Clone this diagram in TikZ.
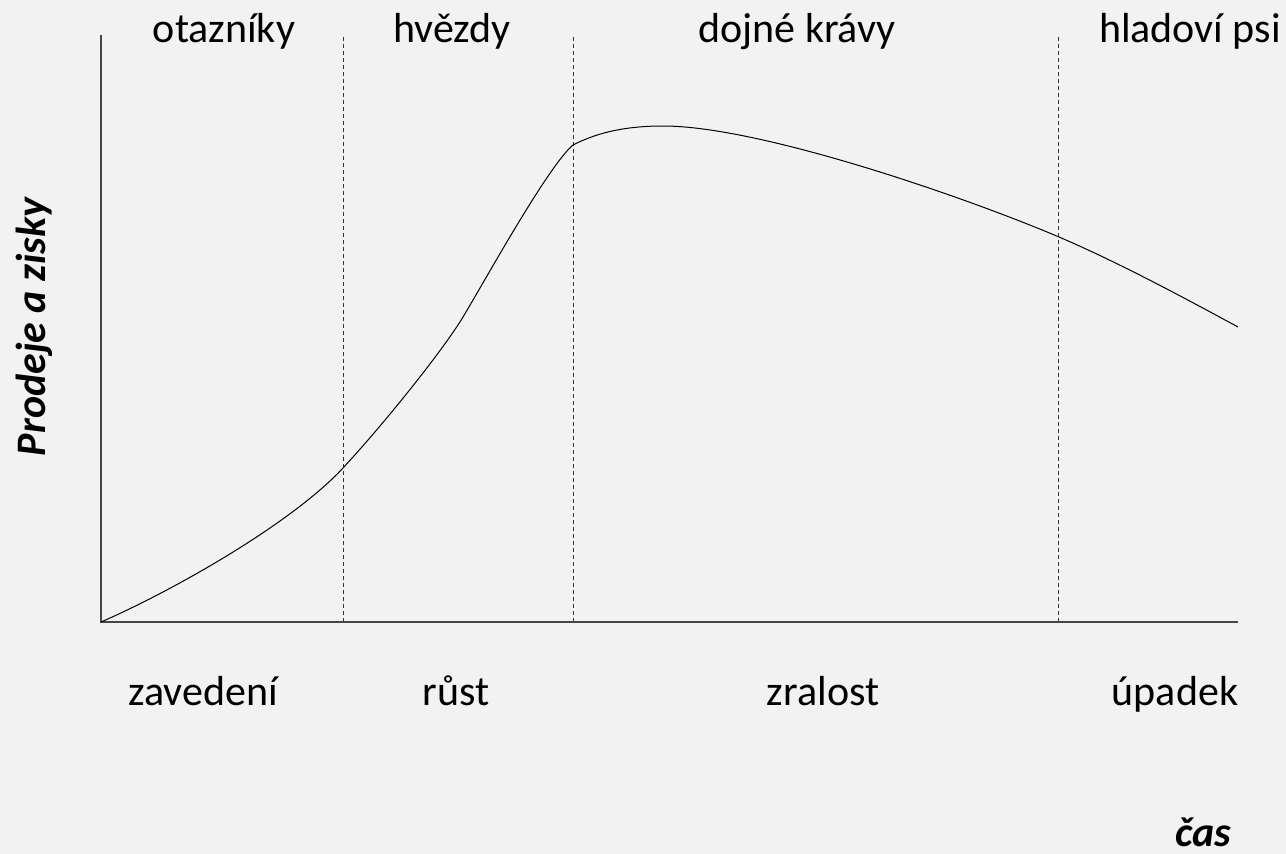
\documentclass[tikz,border=0pt]{standalone}
\usepackage{fontspec}
\setmainfont{Carlito}
\definecolor{bggray}{RGB}{242,242,242}
\definecolor{axisgray}{RGB}{70,70,70}
\begin{document}
\begin{tikzpicture}[x=1pt, y=-1pt, font=\fontsize{42}{50}\selectfont,
    axis/.style={draw=axisgray, line width=1.3pt},
    divider/.style={draw=black!80, line width=0.9pt, dash pattern=on 4pt off 3pt},
    phase/.style={anchor=base, inner sep=0pt},
    axislabel/.style={font=\fontsize{42}{50}\selectfont\bfseries\itshape, inner sep=0pt}]
    \fill[bggray] (0,0) rectangle (1286,854);
    \useasboundingbox (0,0) rectangle (1286,854);

    \coordinate (O)  at (101,622);
    \coordinate (Yt) at (101,35);
    \coordinate (Xe) at (1238,622);
    \coordinate (d1t) at (343,37);  \coordinate (d1b) at (343,622);
    \coordinate (d2t) at (573,37);  \coordinate (d2b) at (573,622);
    \coordinate (d3t) at (1058,37); \coordinate (d3b) at (1058,622);

    \draw[divider] (d1t) -- (d1b);
    \draw[divider] (d2t) -- (d2b);
    \draw[divider] (d3t) -- (d3b);

    \draw[axis] (Yt) -- (O) -- (Xe);

    % krivka zivotniho cyklu
    \draw[line width=1pt] (O)
        .. controls (170,592) and (290,525) .. (343,468)
        .. controls (390,417) and (445,347) .. (463,317)
        .. controls (483,284) and (548,166) .. (573,145)
        .. controls (600,131) and (630,126) .. (663,126)
        .. controls (760,126) and (965,197) .. (1059,237)
        .. controls (1120,263) and (1190,301) .. (1238,327);

    \node[phase] (q)  at (224,42) {otazníky};
    \node[phase] (st) at (452,42) {hvězdy};
    \node[phase] (cw) at (797,42) {dojné krávy};
    \node[phase] (dg) at (1190,42) {hladoví psi};

    \node[phase] (intro)  at (203,705) {zavedení};
    \node[phase] (growth) at (456,705) {růst};
    \node[phase] (mat)    at (823,705) {zralost};
    \node[phase] (decl)   at (1175,705) {úpadek};

    \node[phase, axislabel] (t) at (1203,846) {čas};
    \node[axislabel, rotate=90] (ps) at (34,327) {Prodeje a zisky};
\end{tikzpicture}
\end{document}
